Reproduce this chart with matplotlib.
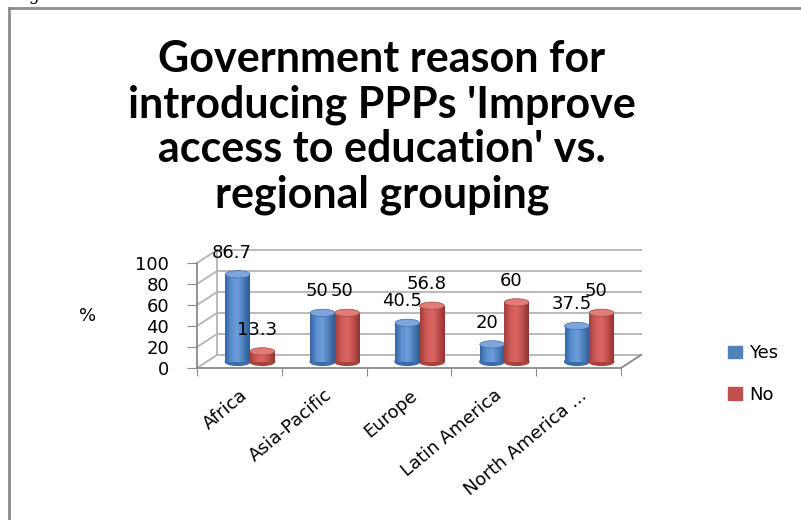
import numpy as np
import matplotlib
matplotlib.use('Agg')
import matplotlib.pyplot as plt
from matplotlib.patches import Rectangle, Ellipse, Patch
from matplotlib.colors import LinearSegmentedColormap

regions = ['Africa', 'Asia-Pacific', 'Europe', 'Latin America', 'North America ...']
yes = [86.7, 50, 40.5, 20, 37.5]
no = [13.3, 50, 56.8, 60, 50]
series = ['Yes', 'No']
yticks = [0, 20, 40, 60, 80, 100]

title = "Government reason for\nintroducing PPPs 'Improve\naccess to education' vs.\nregional grouping"

W, H = 801, 520
fig = plt.figure(figsize=(W / 100, H / 100), dpi=100)

# chart area border (left + top, rest runs off the picture)
fig.add_artist(plt.Line2D([9 / W, 9 / W], [0, 1 - 8 / H], color='#8c8c8c', lw=2))
fig.add_artist(plt.Line2D([9 / W, 1], [1 - 8 / H, 1 - 8 / H], color='#8c8c8c', lw=2))
# caption above the chart, mostly outside the picture
fig.text(12 / W, 1 + 0.5 / H, 'Figure 6', fontsize=12, va='baseline', family='DejaVu Serif')

fig.text(382 / W, 1 - 127 / H, title, ha='center', va='center', fontsize=31,
         fontweight='bold', family='Lato', linespacing=1.15)

# axes: front plane from x=197px..642px, y: 0 at 368px, 105px per 100
x0, x1 = 197, 642
y0, ytop = 368, 245
ax = fig.add_axes([x0 / W, (H - y0) / H, (x1 - x0) / W, (y0 - ytop) / H])
catw = 84.8
xmax = -0.5 + (x1 - x0) / catw
ymax = (y0 - ytop) / 1.05
dx = 20 / catw
dy = 13 / 1.05

grid_c = '#b4b4b4'
axis_c = '#8a8a8a'

# back wall and side wall
for v in yticks:
    ax.plot([-0.5 + dx, xmax], [v + dy, v + dy], color=grid_c, lw=1.3, zorder=1)
    ax.plot([-0.5, -0.5 + dx], [v, v + dy], color=grid_c, lw=1.3, zorder=1)
ax.plot([-0.5 + dx, -0.5 + dx], [dy, 100 + dy], color=grid_c, lw=1.3, zorder=1)
# floor right edge
ax.plot([4.5, 4.5 + dx], [0, dy], color=axis_c, lw=1.3, zorder=1)

blue_map = LinearSegmentedColormap.from_list('b', ['#36659f', '#5a8fd0', '#6b9edb', '#4a7dbb', '#2f5a90'])
red_map = LinearSegmentedColormap.from_list('r', ['#a23e3b', '#cf5a56', '#dc6763', '#bd4f4b', '#8b3532'])
top_cols = ['#7ea6dc', '#e07d79']
base_cols = ['#3c6ca8', '#a8423f']

grad = np.linspace(0, 1, 64).reshape(1, -1)
bw = 0.29
base = 6
cap = 7.0
offs = [-0.02, 0.27]

for s, (vals, cmap) in enumerate([(yes, blue_map), (no, red_map)]):
    for i, v in enumerate(vals):
        xc = i + offs[s]
        left = xc - bw / 2
        top = base + v - cap / 2
        # bottom cap
        ax.add_patch(Ellipse((xc, base), bw, cap, color=base_cols[s], zorder=3))
        body = Rectangle((left, base), bw, top - base, facecolor='none', edgecolor='none', zorder=4)
        ax.add_patch(body)
        im = ax.imshow(grad, cmap=cmap, aspect='auto', extent=[left, left + bw, base, top], zorder=4)
        im.set_clip_path(body)
        ax.add_patch(Ellipse((xc, top), bw, cap, facecolor=top_cols[s], edgecolor=base_cols[s], lw=0.5, zorder=5))
        ax.annotate(f'{v:g}', (xc, base + v), xytext=(-4, 13), textcoords='offset points',
                    ha='center', va='center', fontsize=13, zorder=6)

ax.set_xlim(-0.5, xmax)
ax.set_ylim(0, ymax)

for k in ['top', 'right']:
    ax.spines[k].set_visible(False)
ax.spines['left'].set_bounds(0, 100)
ax.spines['bottom'].set_bounds(-0.5, 4.5)
for k in ['left', 'bottom']:
    ax.spines[k].set_color(axis_c)
    ax.spines[k].set_linewidth(1.3)

ax.set_yticks(yticks)
ax.set_yticklabels([str(t) for t in yticks], fontsize=13)
ax.tick_params(axis='y', length=7, color=axis_c, pad=13)
ax.set_xticks(np.arange(-0.5, 5, 1))
ax.set_xticklabels([''] * 6)
ax.tick_params(axis='x', which='major', length=6, color=axis_c)
ax.set_xticks(np.arange(5), minor=True)
ax.set_xticklabels(regions, minor=True, rotation=40, ha='right', va='top',
                   rotation_mode='anchor', fontsize=13)
ax.tick_params(axis='x', which='minor', length=0, pad=13)

fig.text(88 / W, 1 - 316 / H, '%', ha='center', va='center', fontsize=13)

handles = [Patch(color='#4f81bd'), Patch(color='#c0504d')]
fig.legend(handles, series, loc='center left', bbox_to_anchor=(712 / W, 1 - 374 / H),
           bbox_transform=fig.transFigure, frameon=False, fontsize=13,
           handlelength=0.75, handleheight=0.7, handletextpad=0.4, labelspacing=1.3)

fig.savefig('out.png', dpi=100)
